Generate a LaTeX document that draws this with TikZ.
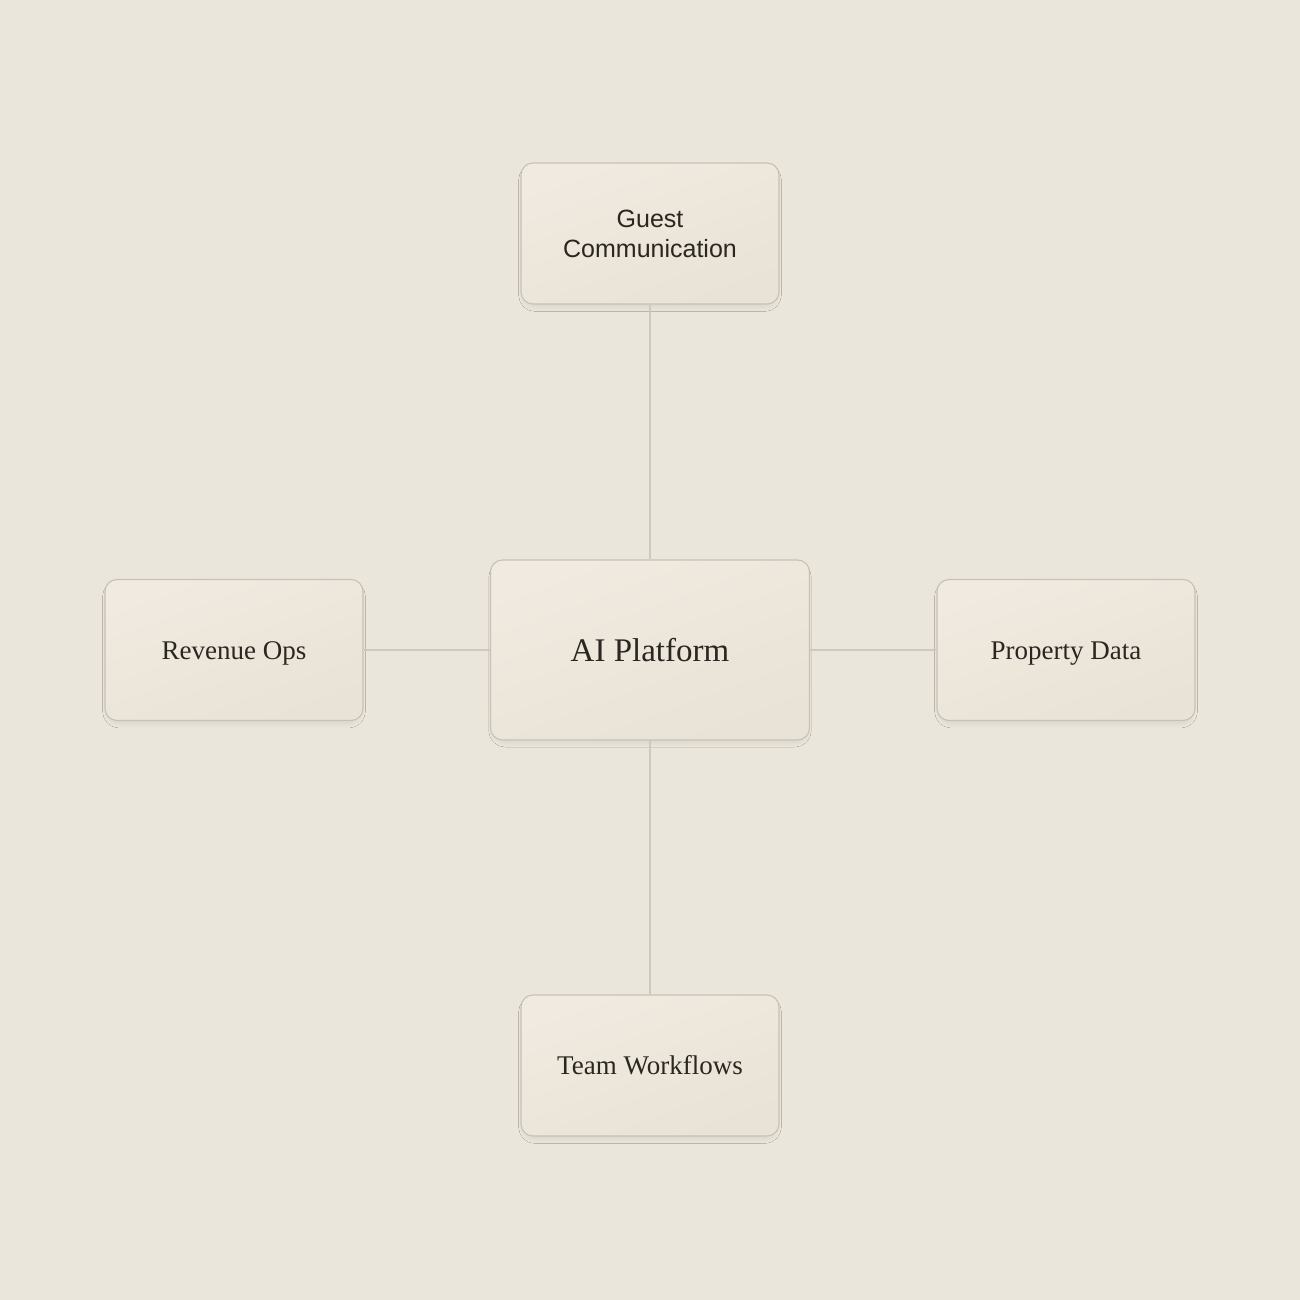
\documentclass[tikz,border=0pt]{standalone}
\usepackage{fontspec}
\setmainfont{Liberation Serif}
\newfontfamily\sansf{Liberation Sans}
\usetikzlibrary{shadows.blur}
\definecolor{bg}{HTML}{EBE6DB}
\definecolor{boxtop}{HTML}{F0EAE0}
\definecolor{boxbot}{HTML}{E9E2D6}
\definecolor{boxline}{HTML}{C8C0B3}
\definecolor{conn}{HTML}{CFC8BC}
\definecolor{ink}{HTML}{2A2620}
\tikzset{
  card/.style={draw=boxline, line width=1.1pt, rounded corners=12pt,
    top color=boxtop, bottom color=boxbot, shading angle=20,
    minimum width=258pt, minimum height=141pt, inner sep=0pt,
    align=center, text=ink, font=\fontsize{27}{32}\selectfont,
    text height=18pt, text depth=0pt,
    blur shadow={shadow xshift=0pt, shadow yshift=-4pt, shadow scale=0.98, shadow blur radius=5pt, shadow blur steps=10, shadow opacity=8}},
  hub/.style={card, minimum width=319pt, minimum height=180pt, font=\fontsize{33}{38}\selectfont, text height=22pt},
  twoline/.style={card, text height=, text depth=, font=\sansf\fontsize{25}{30}\selectfont},
  link/.style={draw=conn, line width=1.3pt}
}
\begin{document}
\begin{tikzpicture}[x=1pt,y=-1pt]
\fill[bg] (0,0) rectangle (1300,1300);
\useasboundingbox (0,0) rectangle (1300,1300);
\node[hub] (ai) at (650,650) {AI Platform};
\node[twoline] (guest) at (650,233.5) {Guest\\Communication};
\node[card] (rev) at (234,650) {Revenue Ops};
\node[card] (prop) at (1066,650) {Property Data};
\node[card] (team) at (650,1065.5) {Team Workflows};
\draw[link] (guest.south) -- (ai.north);
\draw[link] (ai.south) -- (team.north);
\draw[link] (rev.east) -- (ai.west);
\draw[link] (ai.east) -- (prop.west);
\end{tikzpicture}
\end{document}
